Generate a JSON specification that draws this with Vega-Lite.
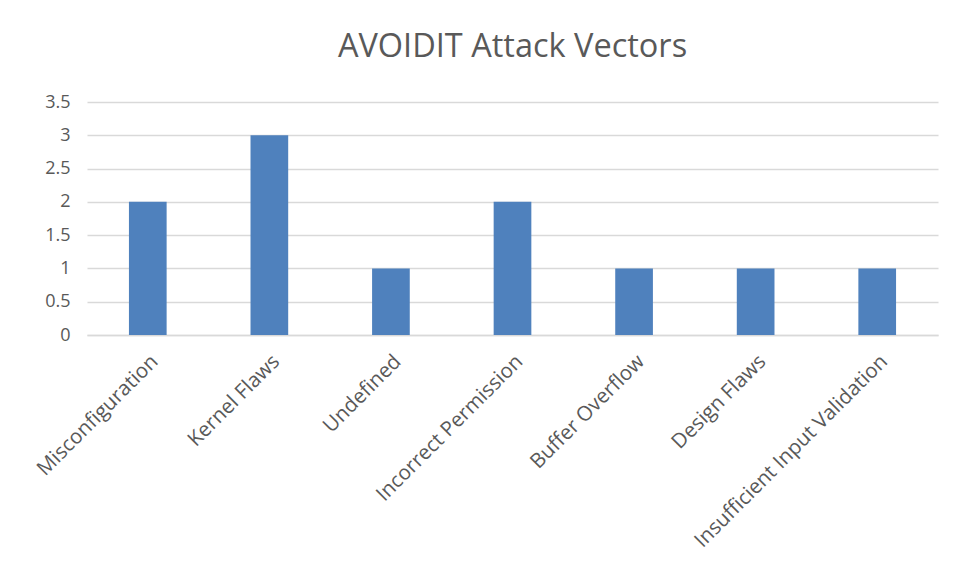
{
  "$schema": "https://vega.github.io/schema/vega-lite/v6.json",
  "autosize": {"type": "none"},
  "width": 851,
  "height": 233,
  "padding": {"left": 87, "top": 102, "right": 19, "bottom": 244},
  "background": "white",
  "title": {
    "text": "AVOIDIT Attack Vectors",
    "font": "Open Sans",
    "fontSize": 32.5,
    "fontWeight": "normal",
    "color": "#595959",
    "anchor": "middle",
    "offset": 30
  },
  "data": {
    "values": [
      {"vector": "Misconfiguration", "count": 2},
      {"vector": "Kernel Flaws", "count": 3},
      {"vector": "Undefined", "count": 1},
      {"vector": "Incorrect Permission", "count": 2},
      {"vector": "Buffer Overflow", "count": 1},
      {"vector": "Design Flaws", "count": 1},
      {"vector": "Insufficient Input Validation", "count": 1}
    ]
  },
  "mark": {"type": "bar", "color": "#4F81BD"},
  "encoding": {
    "x": {
      "field": "vector",
      "type": "nominal",
      "sort": null,
      "scale": {"paddingInner": 0.69, "paddingOuter": 0.345},
      "axis": {
        "title": null,
        "labelAngle": -45,
        "labelFont": "Open Sans",
        "labelFontSize": 20.5,
        "labelColor": "#595959",
        "labelPadding": 16,
        "ticks": false,
        "domainColor": "#D9D9D9",
        "domainWidth": 1.5,
        "labelLimit": 400
      }
    },
    "y": {
      "field": "count",
      "type": "quantitative",
      "scale": {"domain": [0, 3.5]},
      "axis": {
        "title": null,
        "values": [0, 0.5, 1, 1.5, 2, 2.5, 3, 3.5],
        "format": "~g",
        "labelFont": "Open Sans",
        "labelFontSize": 18,
        "labelColor": "#595959",
        "labelPadding": 17,
        "ticks": false,
        "domain": false,
        "gridColor": "#D9D9D9",
        "gridWidth": 1.5
      }
    }
  },
  "config": {"view": {"stroke": null}}
}
